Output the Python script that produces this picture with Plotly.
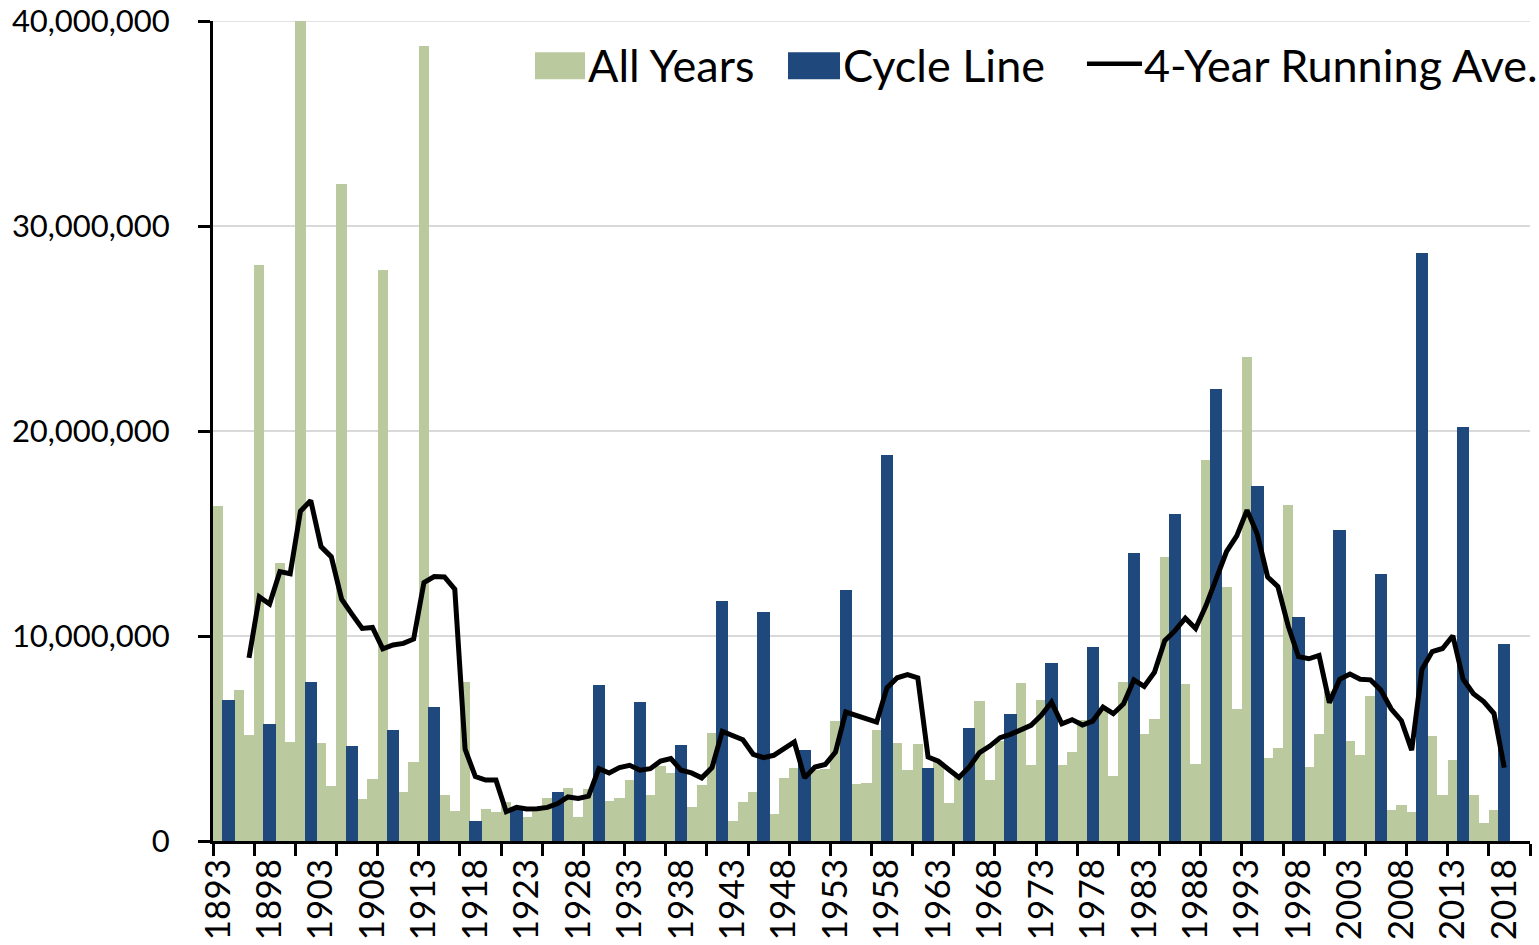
import plotly.graph_objects as go

# ---------------- data (values in millions) ----------------
first_year = 1893
last_year = 2018
years = list(range(first_year, last_year + 1))

all_years_m = [
    16.33, 6.90, 7.37, 5.19, 28.08, 5.69, 13.58, 4.83, 40.30, 7.75,   # 1893-1902
    4.78, 2.69, 32.05, 4.63, 2.03, 3.01, 27.84, 5.40, 2.40, 3.83,      # 1903-1912
    38.78, 6.56, 2.22, 1.46, 7.78, 0.99, 1.54, 1.43, 1.91, 1.51,       # 1913-1922
    1.18, 1.67, 2.08, 2.40, 2.61, 1.18, 2.56, 7.63, 1.96, 2.12,        # 1923-1932
    3.00, 6.77, 2.24, 3.65, 3.32, 4.70, 1.67, 2.72, 5.27, 11.72,       # 1933-1942
    0.99, 1.91, 2.37, 11.18, 1.31, 3.08, 3.56, 4.42, 3.45, 3.53,       # 1943-1952
    5.85, 12.25, 2.77, 2.85, 5.40, 18.85, 4.78, 3.45, 4.72, 3.56,      # 1953-1962
    3.83, 1.83, 3.18, 5.51, 6.81, 2.97, 4.90, 6.21, 7.70, 3.69,        # 1963-1972
    6.89, 8.67, 3.69, 4.34, 5.92, 9.48, 6.40, 3.16, 7.74, 14.03,       # 1973-1982
    5.23, 5.93, 13.87, 15.97, 7.67, 3.78, 18.60, 22.04, 12.40, 6.45,   # 1983-1992
    23.63, 17.34, 4.04, 4.54, 16.39, 10.93, 3.63, 5.20, 7.30, 15.19,   # 1993-2002
    4.88, 4.19, 7.09, 13.02, 1.52, 1.75, 1.42, 28.70, 5.11, 2.23,      # 2003-2012
    3.96, 20.19, 2.23, 0.88, 1.52, 9.63,                               # 2013-2018
]

cycle_years = [1894, 1898, 1902, 1906, 1910, 1914, 1918, 1922, 1926, 1930,
               1934, 1938, 1942, 1946, 1950, 1954, 1958, 1962, 1966, 1970,
               1974, 1978, 1982, 1986, 1990, 1994, 1998, 2002, 2006, 2010,
               2014, 2018]
cycle_m = [6.90, 5.69, 7.75, 4.63, 5.40, 6.56, 0.99, 1.51, 2.40, 7.63,
           6.77, 4.70, 11.72, 11.18, 4.42, 12.25, 18.85, 3.56, 5.51, 6.21,
           8.67, 9.48, 14.03, 15.97, 22.04, 17.34, 10.93, 15.19, 13.02, 28.70,
           20.19, 9.63]

avg_years = list(range(1896, last_year + 1))
avg_m = [
    8.93, 11.91, 11.56, 13.14, 13.04, 16.09, 16.61, 14.36, 13.86, 11.80,   # 1896-1905
    11.07, 10.37, 10.42, 9.37, 9.56, 9.64, 9.85, 12.61, 12.90, 12.88,      # 1906-1915
    12.28, 4.48, 3.14, 2.97, 2.97, 1.43, 1.64, 1.56, 1.57, 1.64,           # 1916-1925
    1.83, 2.15, 2.08, 2.19, 3.53, 3.32, 3.58, 3.69, 3.45, 3.53,            # 1926-1935
    3.90, 4.02, 3.45, 3.32, 3.08, 3.58, 5.35, 5.15, 4.94, 4.23,            # 1936-1945
    4.07, 4.18, 4.51, 4.83, 3.08, 3.61, 3.73, 4.34, 6.29, 6.13,            # 1946-1955
    5.92, 5.80, 7.47, 7.96, 8.12, 7.96, 4.10, 3.89, 3.49, 3.10,            # 1956-1965
    3.61, 4.31, 4.63, 5.04, 5.20, 5.43, 5.64, 6.13, 6.77, 5.72,            # 1966-1975
    5.92, 5.66, 5.85, 6.53, 6.21, 6.69, 7.86, 7.54, 8.23, 9.77,            # 1976-1985
    10.26, 10.87, 10.37, 11.47, 12.88, 14.11, 14.88, 16.14, 14.96, 12.88,  # 1986-1995
    12.41, 10.49, 8.99, 8.89, 9.05, 6.75, 7.89, 8.14, 7.89, 7.86,          # 1996-2005
    7.36, 6.45, 5.87, 4.43, 8.38, 9.24, 9.39, 10.01, 7.89, 7.18,           # 2006-2015
    6.80, 6.22, 3.58,                                                      # 2016-2018
]

tick_years = list(range(1893, 2019, 5))
tick_labels = [str(y) for y in tick_years]
y_ticks_m = [0, 10, 20, 30, 40]
y_tick_labels = ["0", "10,000,000", "20,000,000", "30,000,000", "40,000,000"]

series_names = ["All Years", "Cycle Line", "4-Year Running Ave."]

assert len(all_years_m) == len(years)
assert len(cycle_m) == len(cycle_years)
assert len(avg_m) == len(avg_years)

M = 1_000_000
all_years_v = [v * M for v in all_years_m]
cycle_v = [v * M for v in cycle_m]
avg_v = [v * M for v in avg_m]
y_ticks_v = [v * M for v in y_ticks_m]
y_max = y_ticks_v[-1]

# ---------------- style ----------------
GREEN = "#BBCA9E"
BLUE = "#1F497D"
GRID = "#D9D9D9"
FONT = "Lato"

fig = go.Figure()
fig.add_trace(go.Bar(x=years, y=all_years_v, width=1.0, name=series_names[0],
                     marker=dict(color=GREEN, line=dict(width=0)), showlegend=False))
fig.add_trace(go.Bar(x=cycle_years, y=cycle_v, width=1.2, name=series_names[1],
                     marker=dict(color=BLUE, line=dict(width=0)), showlegend=False))
fig.add_trace(go.Scatter(x=avg_years, y=avg_v, mode="lines", name=series_names[2],
                         line=dict(color="black", width=5), showlegend=False))

fig.update_layout(
    width=1539, height=945,
    margin=dict(l=213, r=9, t=21, b=104, autoexpand=False),
    paper_bgcolor="white", plot_bgcolor="white",
    barmode="overlay", bargap=0,
    font=dict(family=FONT, color="black"),
)

fig.update_xaxes(
    range=[1892.5, 2020.5], automargin=False,
    tickmode="array", tickvals=tick_years, ticktext=tick_labels,
    tickangle=-90, tickfont=dict(size=35, family=FONT, color="black"),
    ticks="", ticklen=0, showgrid=False, zeroline=False,
    showline=True, linecolor="black", linewidth=3,
    minor=dict(tick0=1892.5, dtick=4, ticks="outside", ticklen=12,
               tickwidth=3, tickcolor="black", showgrid=False),
    ticklabelstandoff=1, ticklabeloverflow="allow",
)
fig.update_yaxes(
    range=[0, y_max], automargin=False,
    tickmode="array", tickvals=y_ticks_v, ticktext=y_tick_labels,
    tickfont=dict(size=31, family=FONT, color="black"),
    ticks="outside", ticklen=12, tickwidth=3, tickcolor="black",
    showline=True, linecolor="black", linewidth=3,
    showgrid=True, gridcolor=GRID, gridwidth=1.5,
    zeroline=False, ticklabelstandoff=22, ticklabeloverflow="allow",
)

# top gridline (Plotly skips a gridline lying on the plot edge)
fig.add_shape(type="line", xref="x domain", yref="y", x0=0, x1=1,
              y0=y_max, y1=y_max, line=dict(color=GRID, width=1.5), layer="below")

# ---------------- legend (drawn manually to match large swatches) ----------------
LEG_FONT = dict(size=45, family=FONT, color="black")
leg_y0, leg_y1 = 0.929, 0.962
leg_text_y = 0.946
fig.add_shape(type="rect", xref="paper", yref="paper", x0=0.2445, x1=0.2825,
              y0=leg_y0, y1=leg_y1, fillcolor=GREEN, line=dict(width=0))
fig.add_annotation(xref="paper", yref="paper", x=0.2835, y=leg_text_y, xanchor="left",
                   yanchor="middle", text=series_names[0], showarrow=False, font=LEG_FONT)
fig.add_shape(type="rect", xref="paper", yref="paper", x0=0.4366, x1=0.4761,
              y0=leg_y0, y1=leg_y1, fillcolor=BLUE, line=dict(width=0))
fig.add_annotation(xref="paper", yref="paper", x=0.4771, y=leg_text_y, xanchor="left",
                   yanchor="middle", text=series_names[1], showarrow=False, font=LEG_FONT)
fig.add_shape(type="line", xref="paper", yref="paper", x0=0.6636, x1=0.7054,
              y0=0.948, y1=0.948, line=dict(color="black", width=4.5))
fig.add_annotation(xref="paper", yref="paper", x=0.7054, y=leg_text_y, xanchor="left",
                   yanchor="middle", text=series_names[2], showarrow=False, font=LEG_FONT)

fig.write_html("out.html", config={"displayModeBar": False},
               post_script="document.body.style.margin='0';document.body.style.overflow='hidden';")
